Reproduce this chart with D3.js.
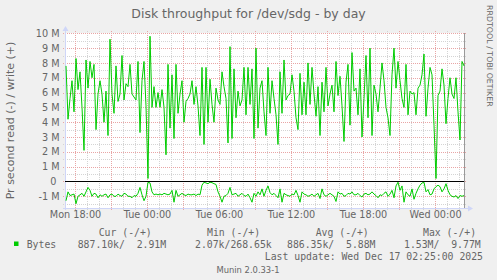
<!DOCTYPE html>
<html>
<head>
<meta charset="utf-8">
<script src="https://cdn.jsdelivr.net/npm/d3@7"></script>
<style>
    body { margin: 0; background: #f0f0f0; }
    svg { display: block; }
    text { font-family: "DejaVu Sans", sans-serif; fill: #666666; }
    .mono { font-family: "DejaVu Sans Mono", monospace; font-size: 9.8px; white-space: pre; }
</style>
</head>
<body>
<div id="chart"></div>
<script>
// samples every 10 minutes, first one Mon 15 Dec 2025 17:15
const startTime = new Date(2025, 11, 15, 17, 15);
const stepMinutes = 10;

// write rate, MB/s (drawn above zero)
const writeM = [
    7.8, 4.2, 5.6, 6.8, 4.7, 8.3, 6.2, 7.4, 5.0, 2.1,
    8.2, 6.3, 8.1, 7.0, 7.9, 3.5, 5.9, 6.8, 5.9, 4.0,
    6.1, 3.1, 9.6, 5.9, 4.6, 7.8, 5.4, 5.9, 8.5, 5.5,
    6.6, 6.4, 7.9, 5.9, 5.7, 5.5, 8.1, 3.3, 6.8, 8.1,
    5.1, 0.2, 9.8, 5.0, 6.4, 5.0, 6.0, 5.0, 6.2, 5.0,
    1.8, 7.9, 3.6, 7.2, 2.9, 7.9, 4.6, 5.9, 6.8, 4.0,
    5.4, 5.6, 5.9, 6.8, 5.2, 6.4, 5.1, 3.1, 7.7, 2.5,
    7.7, 4.0, 6.9, 5.2, 4.0, 6.3, 5.5, 5.2, 7.4, 6.4,
    5.6, 2.6, 9.1, 2.9, 7.6, 4.3, 6.1, 5.1, 5.5, 7.7,
    4.5, 7.7, 5.2, 7.6, 2.9, 9.0, 3.6, 6.3, 6.8, 4.7,
    3.1, 7.7, 4.6, 6.8, 5.6, 4.5, 2.5, 7.4, 4.6, 8.2,
    5.5, 5.8, 5.9, 7.2, 6.1, 4.3, 3.5, 7.3, 4.5, 6.7,
    4.5, 8.0, 5.2, 7.7, 5.9, 4.4, 6.4, 3.1, 6.7, 4.7,
    7.7, 5.1, 5.9, 6.5, 4.7, 8.1, 5.8, 7.1, 5.1, 2.7,
    6.7, 7.9, 3.8, 8.7, 6.1, 6.3, 4.5, 7.6, 3.0, 5.6,
    8.5, 4.3, 9.0, 3.1, 6.5, 5.9, 4.7, 6.3, 8.0, 6.8,
    5.0, 4.3, 3.1, 7.2, 9.0, 6.3, 8.1, 6.8, 5.6, 5.0,
    7.9, 4.5, 6.1, 5.9, 6.0, 4.5, 6.3, 6.5, 7.2, 8.6,
    4.4, 6.3, 7.7, 7.2, 3.8, 0.2, 5.8, 6.1, 7.6, 6.5,
    3.9, 5.6, 7.0, 5.9, 5.6, 7.0, 4.7, 2.8, 8.1, 7.8
];

// read rate, MB/s (drawn below zero)
const readM = [
    1.3, 0.7, 0.95, 0.9, 0.85, 1.5, 1.0, 0.9, 0.8, 1.0,
    0.7, 0.4, 0.6, 1.0, 0.8, 0.85, 1.1, 0.9, 1.0, 0.9,
    0.85, 1.1, 0.9, 0.85, 1.0, 1.0, 0.85, 0.95, 1.0, 0.8,
    0.85, 1.0, 1.0, 1.1, 0.95, 1.0, 0.8, 0.4, 0.9, 1.3,
    1.0, 0.05, 0.1, 0.7, 0.9, 0.85, 0.9, 0.85, 0.9, 0.8,
    0.85, 0.9, 0.85, 0.6, 1.4, 0.6, 1.0, 0.9, 0.8, 0.9,
    0.95, 0.85, 0.9, 0.9, 0.85, 0.95, 0.85, 0.9, 0.25, 0.05,
    0.1, 0.15, 0.05, 0.08, 0.15, 0.2, 0.7, 1.0, 1.4, 1.0,
    0.95, 0.8, 0.4, 0.9, 0.85, 0.8, 1.0, 0.9, 0.8, 0.95,
    1.0, 0.85, 1.1, 1.4, 0.8, 1.0, 0.7, 0.9, 0.5, 1.0,
    0.6, 0.3, 0.75, 0.9, 0.8, 0.95, 1.1, 0.5, 1.4, 0.8,
    0.9, 0.95, 1.0, 0.85, 0.9, 0.6, 0.95, 1.4, 0.7, 0.85,
    0.9, 1.0, 0.95, 0.85, 1.0, 0.9, 0.8, 1.15, 0.5, 0.9,
    1.0, 0.9, 0.8, 0.9, 1.0, 1.35, 0.7, 0.85, 0.8, 1.0,
    0.95, 0.8, 0.85, 0.7, 0.9, 0.9, 0.8, 0.95, 1.05, 0.85,
    0.8, 0.9, 0.85, 0.7, 0.85, 0.95, 1.1, 0.9, 0.95, 0.8,
    0.7, 1.0, 0.85, 0.6, 1.1, 0.3, 0.05, 0.6, 0.3, 1.4,
    0.7, 0.9, 1.0, 0.5, 1.2, 0.8, 0.5, 0.25, 0.1, 0.05,
    0.7, 0.55, 0.9, 0.85, 0.5, 0.35, 0.25, 0.35, 0.7, 0.5,
    0.15, 0.6, 0.9, 1.0, 1.05, 0.95, 1.15, 0.95, 1.0, 0.95
];

const yTicks = [-1, 0, 1, 2, 3, 4, 5, 6, 7, 8, 9, 10];
const xTickTimes = [
    new Date(2025, 11, 15, 18), new Date(2025, 11, 16, 0), new Date(2025, 11, 16, 6),
    new Date(2025, 11, 16, 12), new Date(2025, 11, 16, 18), new Date(2025, 11, 17, 0)
];
const xTickLabels = ["Mon 18:00", "Tue 00:00", "Tue 06:00", "Tue 12:00", "Tue 18:00", "Wed 00:00"];

const titleText = "Disk throughput for /dev/sdg - by day";
const yLabel = "Pr second read (-) / write (+)";
const seriesName = "Bytes";
const legendHeads = ["Cur (-/+)", "Min (-/+)", "Avg (-/+)", "Max (-/+)"];
const legendValues = ["887.10k/  2.91M", "2.07k/268.65k", "886.35k/  5.88M", "1.53M/  9.77M"];
const lastUpdate = "Last update: Wed Dec 17 02:25:00 2025";
const version = "Munin 2.0.33-1";

const width = 497, height = 280;
const plot = { left: 65, right: 464, top: 33, bottom: 208 };

const svg = d3.select("#chart").append("svg")
    .attr("width", width)
    .attr("height", height);

svg.append("rect").attr("width", width).attr("height", height).attr("fill", "#f0f0f0");
svg.append("rect")
    .attr("x", plot.left).attr("y", plot.top)
    .attr("width", plot.right - plot.left).attr("height", plot.bottom - plot.top)
    .attr("fill", "#ffffff");

const x = d3.scaleTime()
    .domain([new Date(2025, 11, 15, 17, 10), new Date(2025, 11, 17, 2, 25)])
    .range([plot.left, plot.right]);
const y = d3.scaleLinear()
    .domain([-1.79, 10])
    .range([plot.bottom, 33.3]);

const px = v => Math.round(v) + 0.5;

// grid: minor
const grid = svg.append("g").attr("stroke-dasharray", "1,1").attr("fill", "none");
const hours = d3.timeHour.every(1).range(x.domain()[0], x.domain()[1]);
grid.selectAll(".vminor").data(hours.filter(d => d.getHours() % 3 !== 0)).enter().append("line")
    .attr("x1", d => px(x(d))).attr("x2", d => px(x(d)))
    .attr("y1", plot.top - 2).attr("y2", plot.bottom + 3)
    .attr("stroke", "#d4d4d4");
const halfSteps = d3.range(-1.5, 10.01, 0.5).filter(v => v % 1 !== 0);
grid.selectAll(".hminor").data(halfSteps).enter().append("line")
    .attr("x1", plot.left - 2).attr("x2", plot.right + 2)
    .attr("y1", d => px(y(d))).attr("y2", d => px(y(d)))
    .attr("stroke", "#d4d4d4");
// grid: major
grid.selectAll(".vmajor").data(hours.filter(d => d.getHours() % 3 === 0)).enter().append("line")
    .attr("x1", d => px(x(d))).attr("x2", d => px(x(d)))
    .attr("y1", plot.top - 2).attr("y2", plot.bottom + 3)
    .attr("stroke", "#e9a5a5");
grid.selectAll(".hmajor").data(yTicks).enter().append("line")
    .attr("x1", plot.left - 2).attr("x2", plot.right + 2)
    .attr("y1", d => px(y(d))).attr("y2", d => px(y(d)))
    .attr("stroke", "#e9a5a5");

// axes (light blue with arrows)
const axisColor = "#cfd6f8";
svg.append("line").attr("x1", plot.left - 2).attr("x2", plot.right + 5)
    .attr("y1", plot.bottom + 0.5).attr("y2", plot.bottom + 0.5).attr("stroke", axisColor);
svg.append("path").attr("d", `M${plot.right + 4},${plot.bottom - 2.5}L${plot.right + 9},${plot.bottom + 0.5}L${plot.right + 4},${plot.bottom + 3.5}Z`)
    .attr("fill", axisColor);
svg.append("line").attr("x1", plot.left + 0.5).attr("x2", plot.left + 0.5)
    .attr("y1", plot.bottom + 2).attr("y2", plot.top - 3).attr("stroke", axisColor);
svg.append("path").attr("d", `M${plot.left - 2.5},${plot.top - 2}L${plot.left + 0.5},${plot.top - 7}L${plot.left + 3.5},${plot.top - 2}Z`)
    .attr("fill", axisColor);

// right edge
svg.append("line").attr("x1", plot.right + 0.5).attr("x2", plot.right + 0.5)
    .attr("y1", plot.top).attr("y2", plot.bottom).attr("stroke", "#999999");

// data lines
const times = writeM.map((d, i) => d3.timeMinute.offset(startTime, i * stepMinutes));
const line = d3.line()
    .x(d => x(d.t))
    .y(d => y(d.v));
svg.append("path")
    .attr("d", line(writeM.map((v, i) => ({ t: times[i], v: v }))))
    .attr("fill", "none").attr("stroke", "#00cc00").attr("stroke-width", 1);
svg.append("path")
    .attr("d", line(readM.map((v, i) => ({ t: times[i], v: -v }))))
    .attr("fill", "none").attr("stroke", "#00cc00").attr("stroke-width", 1);

// zero rule
svg.append("line").attr("x1", plot.left).attr("x2", plot.right)
    .attr("y1", px(y(0))).attr("y2", px(y(0)))
    .attr("stroke", "#000000").attr("stroke-width", 1.2);

// tick labels
const yAxis = d3.axisLeft(y).tickValues(yTicks).tickSize(0).tickPadding(0)
    .tickFormat(d => d === 0 ? "0 " : d + " M");
const yg = svg.append("g").attr("transform", `translate(${plot.left - 5.5},0)`).call(yAxis);
yg.select(".domain").remove();
yg.selectAll("text").attr("font-size", "9.7px").attr("font-family", "DejaVu Sans")
    .attr("fill", "#666666").style("white-space", "pre");

const xAxis = d3.axisBottom(x).tickValues(xTickTimes).tickSize(0).tickPadding(0)
    .tickFormat((d, i) => xTickLabels[i]);
const xg = svg.append("g").attr("transform", `translate(0,${plot.bottom + 3})`).call(xAxis);
xg.select(".domain").remove();
xg.selectAll("text").attr("font-size", "9.7px").attr("font-family", "DejaVu Sans")
    .attr("fill", "#666666");

// title and labels
svg.append("text").attr("x", 248.5).attr("y", 18).attr("text-anchor", "middle")
    .attr("font-size", "12.5px").attr("fill", "#5e5e5e").text(titleText);
svg.append("text").attr("transform", `translate(14,${(plot.top + plot.bottom) / 2}) rotate(-90)`)
    .attr("text-anchor", "middle").attr("font-size", "11px").attr("fill", "#666666").text(yLabel);
svg.append("text").attr("transform", "translate(487,5) rotate(90)")
    .attr("font-size", "7.9px").attr("fill", "#c4c4c4").text("RRDTOOL / TOBI OETIKER");

// legend
const headX = [98.7, 207, 315.7, 423];
const valX = [77.7, 195, 287, 404];
svg.append("rect").attr("x", 14).attr("y", 241.5).attr("width", 4.5).attr("height", 4.5).attr("fill", "#00cc00");
svg.append("text").attr("class", "mono").attr("x", 26.7).attr("y", 248).text(seriesName);
svg.selectAll(".lhead").data(legendHeads).enter().append("text")
    .attr("class", "mono").attr("x", (d, i) => headX[i]).attr("y", 236).text(d => d);
svg.selectAll(".lval").data(legendValues).enter().append("text")
    .attr("class", "mono").attr("x", (d, i) => valX[i]).attr("y", 248).text(d => d);
svg.append("text").attr("class", "mono").attr("x", 483).attr("y", 260)
    .attr("text-anchor", "end").text(lastUpdate);
svg.append("text").attr("x", 248).attr("y", 272.5).attr("text-anchor", "middle")
    .attr("font-size", "8.4px").attr("fill", "#c0c0c0").text(version);
</script>
</body>
</html>
